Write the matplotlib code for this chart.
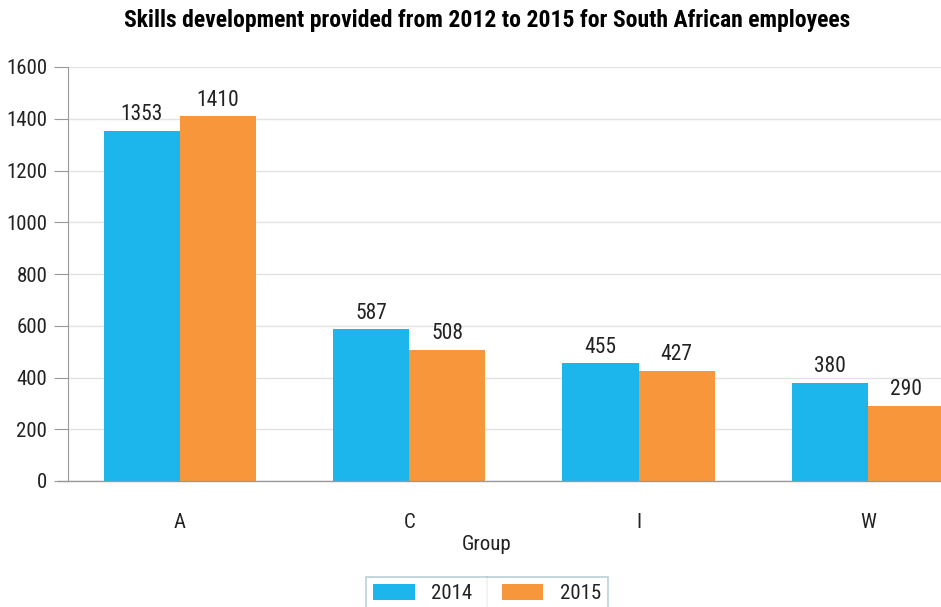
import matplotlib.pyplot as plt
from matplotlib.lines import Line2D
import numpy as np

groups = ["A", "C", "I", "W"]
years = ["2014", "2015"]
values_2014 = [1353, 587, 455, 380]
values_2015 = [1410, 508, 427, 290]
yticks = [0, 200, 400, 600, 800, 1000, 1200, 1400, 1600]

plt.rcParams['font.family'] = ['Roboto Condensed', 'Liberation Sans Narrow', 'Roboto', 'DejaVu Sans']

fig = plt.figure(figsize=(9.41, 6.07), dpi=100)
ax = fig.add_axes([68 / 941, 1 - 481 / 607, (941 - 68) / 941, (481 - 67) / 607])

x = np.arange(len(groups))
w = 0.332
b1 = ax.bar(x - w / 2, values_2014, w, color='#1cb5ec', label=years[0], zorder=2)
b2 = ax.bar(x + w / 2, values_2015, w, color='#f7963a', label=years[1], zorder=2)
for bars in (b1, b2):
    ax.bar_label(bars, padding=4, fontsize=15.5, color='#222222')

ax.set_xlim(-0.488, 3.319)
ax.set_ylim(0, 1600)
ax.set_yticks(yticks)
ax.set_xticks(x)
ax.set_xticklabels(groups)
ax.tick_params(axis='y', length=10, color='#999999', labelsize=15, labelcolor='#222222', pad=5)
ax.tick_params(axis='x', length=0, labelsize=15, labelcolor='#222222', pad=23)
ax.yaxis.grid(True, color='#e3e3e3', linewidth=1, zorder=0)
ax.set_axisbelow(True)
for s in ('top', 'right', 'bottom'):
    ax.spines[s].set_visible(False)
ax.spines['left'].set_color('#999999')
# baseline runs a bit past the left spine like the tick marks
ax.add_line(Line2D([-0.531, 3.319], [0, 0], color='#999999', linewidth=1,
                   clip_on=False, zorder=3))

ax.set_xlabel("Group", fontsize=15, color='#222222', labelpad=2)
ax.xaxis.label.set_x((487 - 68) / 873)
fig.suptitle("Skills development provided from 2012 to 2015 for South African employees",
             x=487 / 941, fontsize=17, fontweight='bold', y=0.985)

leg = fig.legend(loc='upper center', bbox_to_anchor=(487 / 941, 1 - 577 / 607), ncol=2,
                 fontsize=15, frameon=True, fancybox=False, edgecolor='#a9c4d0',
                 handlelength=2.0, handleheight=0.75, handletextpad=0.8,
                 columnspacing=1.4, borderpad=0.35, borderaxespad=0)
leg.get_frame().set_linewidth(1.2)
for t in leg.get_texts():
    t.set_color('#222222')

fig.canvas.draw()
bb = leg.get_window_extent().transformed(fig.transFigure.inverted())
mid = (bb.x0 + bb.x1) / 2
fig.add_artist(Line2D([mid, mid], [bb.y0, bb.y1], color='#a9c4d0', linewidth=1.2,
                      transform=fig.transFigure))

fig.savefig("out.png", dpi=100)
